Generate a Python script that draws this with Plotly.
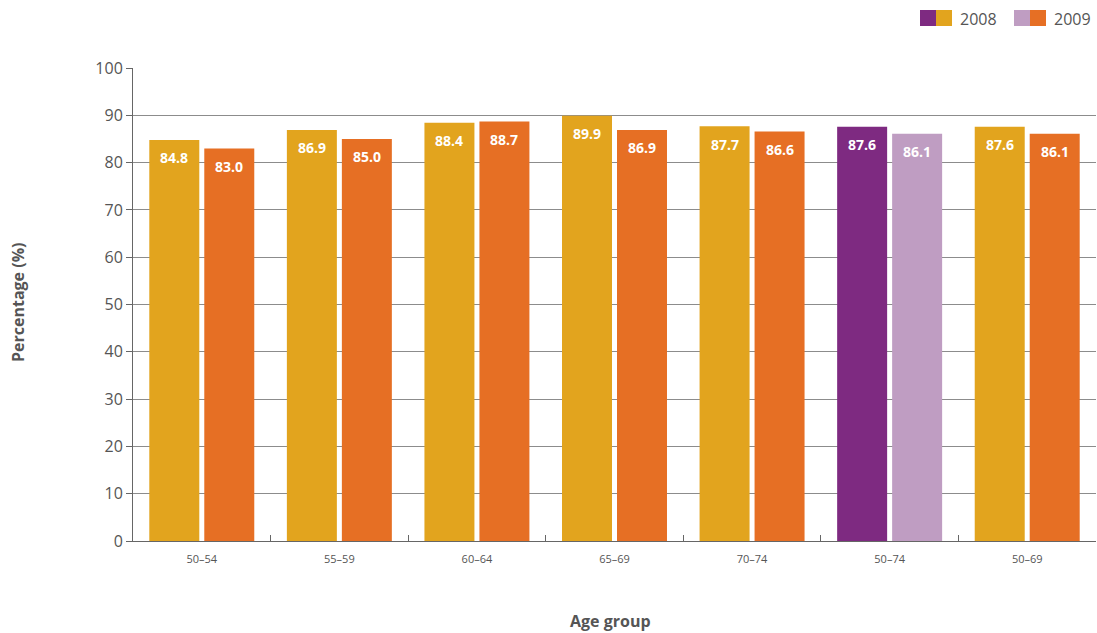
import plotly.graph_objects as go

categories = ["50–54", "55–59", "60–64", "65–69", "70–74", "50–74", "50–69"]
values_2008 = [84.8, 86.9, 88.4, 89.9, 87.7, 87.6, 87.6]
values_2009 = [83.0, 85.0, 88.7, 86.9, 86.6, 86.1, 86.1]

gold, orange = "#E2A41E", "#E66F24"
purple, lilac = "#7E2A81", "#BF9DC2"
colors_2008 = [purple if c == "50–74" else gold for c in categories]
colors_2009 = [lilac if c == "50–74" else orange for c in categories]

font_fam = "Open Sans, Noto Sans, sans-serif"
label_font = dict(family=font_fam, size=14, color="white", weight="bold")

W, H = 1097, 633
PL, PR, PT, PB = 133, 1096, 68, 541          # plot area in page pixels
L, T, R, B = PL, PT, W - PR, H - PB
PW, PH = PR - PL, PB - PT
BARGAP, GROUPGAP = 0.2006, 0.0909
SLOT_PX = PW / len(categories) * (1 - BARGAP) / 2


def px(x):
    return (x - PL) / PW


def py(y):
    return (PB - y) / PH


fig = go.Figure()
for name, vals, cols, side in [("2008", values_2008, colors_2008, -1),
                               ("2009", values_2009, colors_2009, 1)]:
    fig.add_trace(go.Bar(
        x=categories, y=vals, name=name, marker=dict(color=cols, line=dict(width=0)),
        showlegend=False, hoverinfo="x+y+name",
    ))
    for c, v in zip(categories, vals):
        fig.add_annotation(x=c, y=v, text=f"{v:.1f}", showarrow=False,
                           xshift=side * SLOT_PX / 2, yshift=-18,
                           xanchor="center", yanchor="middle", font=label_font)

fig.update_layout(
    width=W, height=H, barmode="group", bargap=BARGAP, bargroupgap=GROUPGAP,
    plot_bgcolor="white", paper_bgcolor="white",
    margin=dict(l=L, r=R, t=T, b=B),
    font=dict(family=font_fam, color="#555555"),
)
fig.update_yaxes(
    range=[0, 100], dtick=10, showgrid=True, gridcolor="#8c8c8c", gridwidth=1,
    showline=True, linecolor="#666666", linewidth=1, ticks="outside", ticklen=6,
    tickcolor="#666666", tickfont=dict(size=16, color="#555555"),
    zeroline=False, automargin=False,
)
fig.update_xaxes(
    showline=True, linecolor="#666666", linewidth=1, ticks="inside", tickson="boundaries",
    ticklen=6, tickcolor="#666666", tickfont=dict(size=11, color="#555555"),
    ticklabelstandoff=8, automargin=False,
)

# axis titles
fig.add_annotation(xref="paper", yref="paper", x=px(18), y=py(303), text="Percentage (%)",
                   textangle=-90, showarrow=False, xanchor="center", yanchor="middle",
                   font=dict(size=16, color="#555555", weight="bold"))
fig.add_annotation(xref="paper", yref="paper", x=px(610), y=py(621), text="Age group",
                   showarrow=False, xanchor="center", yanchor="middle",
                   font=dict(size=16, color="#555555", weight="bold"))

# custom legend
legend_items = [(purple, gold, "2008", 920), (lilac, orange, "2009", 1014)]
for c1, c2, label, x0 in legend_items:
    fig.add_shape(type="rect", xref="paper", yref="paper",
                  x0=px(x0), x1=px(x0 + 16), y0=py(26), y1=py(10),
                  fillcolor=c1, line=dict(width=0))
    fig.add_shape(type="rect", xref="paper", yref="paper",
                  x0=px(x0 + 16), x1=px(x0 + 32), y0=py(26), y1=py(10),
                  fillcolor=c2, line=dict(width=0))
    fig.add_annotation(xref="paper", yref="paper", x=px(x0 + 38), y=py(19),
                       text=label, showarrow=False, xanchor="left", yanchor="middle",
                       font=dict(size=16, color="#555555"))

fig.write_html("out.html", config={"displayModeBar": False},
               post_script="document.body.style.margin='0';document.body.style.overflow='hidden';")
